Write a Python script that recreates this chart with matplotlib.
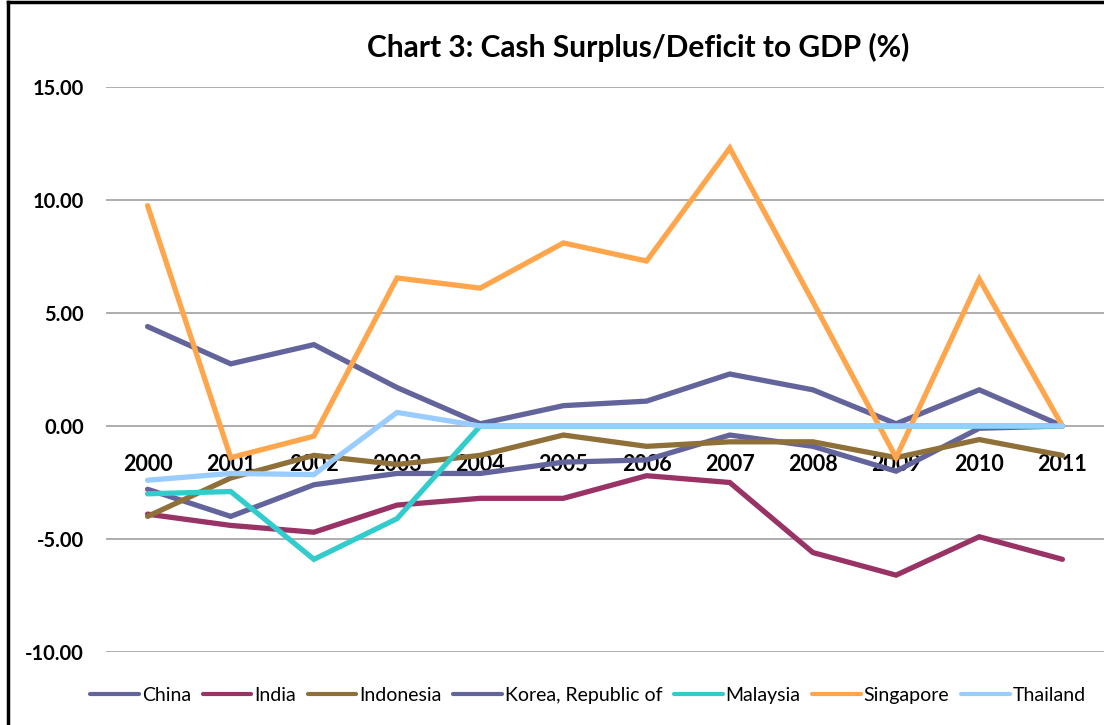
import numpy as np
import matplotlib.pyplot as plt
from matplotlib.lines import Line2D

years = ['2000', '2001', '2002', '2003', '2004', '2005',
         '2006', '2007', '2008', '2009', '2010', '2011']

china = [-2.8, -4.0, -2.6, -2.1, -2.1, -1.6, -1.5, -0.4, -0.9, -2.0, -0.1, 0.0]
india = [-3.9, -4.4, -4.7, -3.5, -3.2, -3.2, -2.2, -2.5, -5.6, -6.6, -4.9, -5.9]
indonesia = [-4.0, -2.3, -1.3, -1.7, -1.3, -0.4, -0.9, -0.7, -0.7, -1.4, -0.6, -1.3]
korea = [4.4, 2.75, 3.6, 1.7, 0.1, 0.9, 1.1, 2.3, 1.6, 0.1, 1.6, 0.0]
malaysia = [-3.0, -2.9, -5.9, -4.1, 0.0, 0.0, 0.0, 0.0, 0.0, 0.0, 0.0, 0.0]
singapore = [9.75, -1.4, -0.45, 6.55, 6.1, 8.1, 7.3, 12.3, 5.5, -1.4, 6.5, 0.0]
thailand = [-2.4, -2.1, -2.15, 0.6, 0.0, 0.0, 0.0, 0.0, 0.0, 0.0, 0.0, 0.0]

series = [
    ('China', china, '#64649C'),
    ('India', india, '#993366'),
    ('Indonesia', indonesia, '#8E7038'),
    ('Korea, Republic of', korea, '#64649C'),
    ('Malaysia', malaysia, '#33CCCC'),
    ('Singapore', singapore, '#FFA64D'),
    ('Thailand', thailand, '#99CCFF'),
]

plt.rcParams['font.family'] = ['Lato', 'DejaVu Sans']

fig = plt.figure(figsize=(11.04, 7.25), dpi=100)
ax = fig.add_axes([0.096, 0.1007, 0.904, 0.7793])

x = np.arange(len(years))
for name, vals, col in series:
    ax.plot(x, vals, color=col, lw=3.8, label=name, solid_capstyle='round',
            solid_joinstyle='miter')

ax.set_xlim(-0.5, len(years) - 0.5)
ax.set_ylim(-10, 15)
ax.set_yticks([-10, -5, 0, 5, 10, 15])
ax.set_yticklabels(['%.2f' % v for v in [-10, -5, 0, 5, 10, 15]])
ax.yaxis.grid(True, color='#A0A0A0', lw=1.2)
ax.set_axisbelow(True)

ax.set_xticks(x)
ax.set_xticklabels(years)
for s in ax.spines.values():
    s.set_visible(False)
ax.spines['bottom'].set_position(('data', 0))
ax.tick_params(axis='x', length=0, pad=20, labelsize=15.5)
ax.tick_params(axis='y', length=0, pad=16, labelsize=14.5)
for lab in ax.get_xticklabels() + ax.get_yticklabels():
    lab.set_fontweight('bold')

fig.text(0.578, 0.935, 'Chart 3: Cash Surplus/Deficit to GDP (%)',
         ha='center', va='center', fontsize=21.5, fontweight='bold')

leg = ax.legend(loc='center', bbox_to_anchor=(0.483, -0.077), ncol=7,
                frameon=False, fontsize=14, handlelength=2.5,
                handletextpad=0.15, columnspacing=0.6)
for h in leg.get_lines():
    h.set_linewidth(3)

fig.add_artist(Line2D([0.0075, 0.0075], [0, 0.997], color='black', lw=2.5))
fig.add_artist(Line2D([0.0075, 1.0], [0.997, 0.997], color='black', lw=2.5))

fig.savefig('out.png', dpi=100)
